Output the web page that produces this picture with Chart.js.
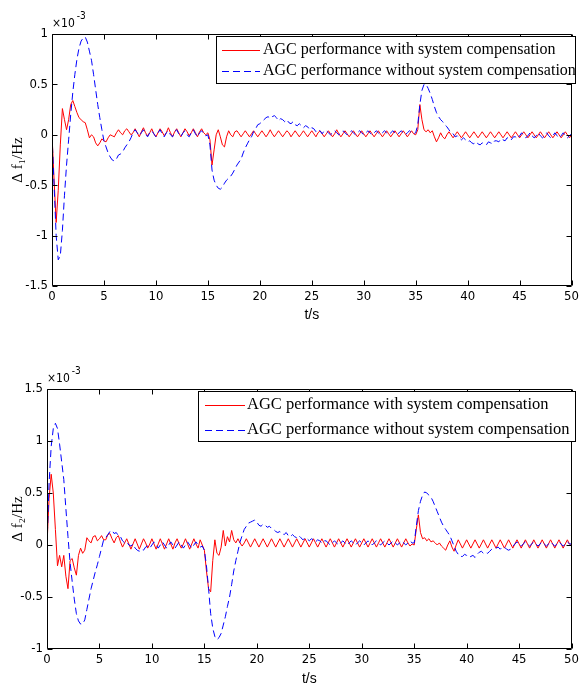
<!DOCTYPE html>
<html><head><meta charset="utf-8">
<script src="https://cdn.jsdelivr.net/npm/chart.js@4.4.0/dist/chart.umd.min.js"></script>
<style>
html,body{margin:0;padding:0;background:#fff;width:582px;height:691px;overflow:hidden;}
.wrap{position:absolute;left:0;width:582px;}
canvas{display:block;}
</style></head><body>
<div class="wrap" style="top:0;height:345px"><canvas id="c1" width="582" height="345"></canvas></div>
<div class="wrap" style="top:345px;height:346px"><canvas id="c2" width="582" height="346"></canvas></div>
<script>
// time axis (s)
const TIME = [
0,0.2,0.4,0.6,0.8,1,1.2,1.4,1.6,1.8,
2,2.2,2.4,2.6,2.8,3,3.2,3.4,3.6,3.8,
4,4.2,4.4,4.6,4.8,5,5.2,5.4,5.6,5.8,
6,6.2,6.4,6.6,6.8,7,7.2,7.4,7.6,7.8,
8,8.2,8.4,8.6,8.8,9,9.2,9.4,9.6,9.8,
10,10.2,10.4,10.6,10.8,11,11.2,11.4,11.6,11.8,
12,12.2,12.4,12.6,12.8,13,13.2,13.4,13.6,13.8,
14,14.2,14.4,14.6,14.8,15,15.2,15.4,15.6,15.8,
16,16.2,16.4,16.6,16.8,17,17.2,17.4,17.6,17.8,
18,18.2,18.4,18.6,18.8,19,19.2,19.4,19.6,19.8,
20,20.2,20.4,20.6,20.8,21,21.2,21.4,21.6,21.8,
22,22.2,22.4,22.6,22.8,23,23.2,23.4,23.6,23.8,
24,24.2,24.4,24.6,24.8,25,25.2,25.4,25.6,25.8,
26,26.2,26.4,26.6,26.8,27,27.2,27.4,27.6,27.8,
28,28.2,28.4,28.6,28.8,29,29.2,29.4,29.6,29.8,
30,30.2,30.4,30.6,30.8,31,31.2,31.4,31.6,31.8,
32,32.2,32.4,32.6,32.8,33,33.2,33.4,33.6,33.8,
34,34.2,34.4,34.6,34.8,35,35.2,35.4,35.6,35.8,
36,36.2,36.4,36.6,36.8,37,37.2,37.4,37.6,37.8,
38,38.2,38.4,38.6,38.8,39,39.2,39.4,39.6,39.8,
40,40.2,40.4,40.6,40.8,41,41.2,41.4,41.6,41.8,
42,42.2,42.4,42.6,42.8,43,43.2,43.4,43.6,43.8,
44,44.2,44.4,44.6,44.8,45,45.2,45.4,45.6,45.8,
46,46.2,46.4,46.6,46.8,47,47.2,47.4,47.6,47.8,
48,48.2,48.4,48.6,48.8,49,49.2,49.4,49.6,49.8,
50];

// Δf1 (×10^-3 Hz), with system compensation
const F1_WITH = [
0,-0.45,-0.87,-0.55,-0.1,0.26,0.15,0.05,0.15,0.30,
0.34,0.28,0.22,0.17,0.15,0.13,0.12,0.05,-0.03,0.0,
-0.02,-0.08,-0.11,-0.08,-0.04,-0.06,-0.07,-0.03,0.0,-0.01,
-0.02,0.02,0.05,0.02,0.0,0.04,0.06,0.03,0.0,0.02,
0.06,0.02,-0.02,0.03,0.07,0.02,-0.01,0.02,0.06,0.01,
-0.02,0.02,0.06,0.03,-0.01,0.02,0.07,0.02,-0.02,0.03,
0.06,0.02,-0.02,0.02,0.06,0.03,-0.01,0.02,0.06,0.02,
-0.02,0.03,0.06,0.02,0.0,0.02,-0.05,-0.30,-0.15,0.0,
0.05,-0.02,-0.10,-0.12,-0.02,0.04,0.0,-0.02,0.03,0.04,
0.01,-0.02,0.01,0.04,0.01,-0.02,0.01,0.04,0.01,-0.02,
0.01,0.04,0.01,-0.02,0.01,0.05,0.01,-0.02,0.01,0.04,
0.01,-0.02,0.01,0.04,0.02,-0.02,0.01,0.04,0.01,-0.02,
0.01,0.04,0.01,-0.02,0.01,0.04,0.01,-0.02,0.02,0.04,
0.01,-0.02,0.01,0.04,0.01,-0.02,0.01,0.05,0.01,-0.02,
0.01,0.04,0.01,-0.02,0.01,0.04,0.01,-0.02,0.01,0.04,
0.01,-0.02,0.01,0.04,0.01,-0.02,0.01,0.04,0.01,-0.02,
0.01,0.04,0.01,-0.02,0.01,0.04,0.01,-0.02,0.01,0.04,
0.01,-0.02,0.01,0.04,0.01,0.0,0.05,0.30,0.15,0.05,
0.03,0.05,0.02,0.04,-0.02,-0.07,-0.03,0.02,-0.02,-0.04,
0.0,0.03,0.0,-0.03,0.0,0.03,0.0,-0.03,0.0,0.03,
0.0,-0.03,0.0,0.03,0.0,-0.03,0.0,0.03,0.0,-0.03,
0.0,0.03,0.0,-0.03,0.0,0.03,0.0,-0.03,0.0,0.03,
0.0,-0.03,0.0,0.03,0.0,-0.03,0.0,0.03,0.0,-0.03,
0.0,0.03,0.0,-0.03,0.0,0.03,0.0,-0.03,0.0,0.03,
0.0,-0.03,0.0,0.03,0.0,-0.03,0.0,0.03,0.0,-0.03,
0.0];

// Δf1 (×10^-3 Hz), without system compensation
const F1_WITHOUT = [
0,-0.5,-1.0,-1.24,-1.2,-0.95,-0.6,-0.3,-0.05,0.2,
0.42,0.6,0.75,0.86,0.93,0.96,0.97,0.92,0.83,0.74,
0.6,0.45,0.3,0.17,0.05,-0.06,-0.12,-0.18,-0.22,-0.25,
-0.26,-0.24,-0.2,-0.19,-0.17,-0.13,-0.1,-0.07,-0.03,0.02,
0.05,0.02,-0.01,0.02,0.05,0.01,-0.02,0.02,0.04,0.01,
-0.02,0.02,0.05,0.01,-0.02,0.02,0.04,0.0,-0.02,0.03,
0.05,0.01,-0.02,0.02,0.04,0.0,-0.02,0.02,0.05,0.01,
-0.02,0.02,0.04,0.01,-0.01,0.0,-0.1,-0.35,-0.45,-0.5,
-0.53,-0.54,-0.52,-0.48,-0.45,-0.43,-0.41,-0.38,-0.34,-0.30,
-0.27,-0.24,-0.18,-0.13,-0.09,-0.05,-0.02,0.03,0.06,0.1,
0.11,0.13,0.15,0.17,0.18,0.16,0.18,0.19,0.17,0.14,
0.16,0.15,0.13,0.15,0.12,0.11,0.13,0.10,0.09,0.11,
0.09,0.07,0.09,0.08,0.05,0.07,0.06,0.03,0.05,0.04,
0.01,0.04,0.04,0.02,0.0,0.02,0.04,0.02,0.0,0.02,
0.04,0.02,0.0,0.02,0.04,0.02,0.0,0.02,0.04,0.02,
0.0,0.02,0.04,0.02,0.0,0.02,0.04,0.02,0.0,0.02,
0.04,0.02,0.0,0.02,0.04,0.02,0.0,0.02,0.04,0.02,
0.0,0.02,0.04,0.02,0.01,0.02,0.1,0.3,0.44,0.5,
0.5,0.46,0.41,0.35,0.28,0.22,0.18,0.15,0.13,0.10,
0.08,0.05,0.02,0.01,-0.02,-0.01,-0.03,-0.05,-0.03,-0.05,
-0.07,-0.06,-0.08,-0.09,-0.07,-0.09,-0.10,-0.08,-0.09,-0.10,
-0.07,-0.08,-0.09,-0.06,-0.06,-0.07,-0.04,-0.05,-0.06,-0.03,
-0.03,-0.05,-0.02,-0.02,-0.04,-0.01,0.02,-0.01,-0.03,-0.01,
0.02,-0.01,-0.03,-0.01,0.02,-0.01,-0.03,-0.01,0.02,-0.01,
-0.03,-0.01,0.02,-0.01,-0.03,-0.01,0.02,-0.01,-0.03,-0.01,
0.01];

// Δf2 (×10^-3 Hz), with system compensation
const F2_WITH = [
0.0,0.45,0.68,0.50,0.15,-0.20,-0.10,-0.21,-0.10,-0.30,
-0.42,-0.15,-0.13,-0.22,-0.29,-0.10,-0.03,-0.08,-0.05,0.07,
0.04,0.02,0.08,0.09,0.04,0.06,0.09,0.05,0.05,0.10,
0.11,0.06,0.02,0.07,0.09,0.03,-0.02,0.02,0.06,0.01,
-0.04,0.01,0.06,0.01,-0.04,0.01,0.06,0.02,-0.03,0.01,
0.06,0.01,-0.04,0.01,0.06,0.01,-0.04,0.01,0.06,0.01,
-0.04,0.02,0.06,0.01,-0.03,0.01,0.06,0.01,-0.04,0.01,
0.06,0.01,-0.03,0.05,0.0,-0.05,-0.25,-0.42,-0.45,-0.15,
0.05,-0.08,-0.10,-0.02,0.14,-0.01,0.08,0.03,0.14,0.05,
0.02,0.06,0.02,-0.01,0.02,0.06,0.02,-0.02,0.02,0.06,
0.02,-0.02,0.02,0.06,0.02,-0.02,0.02,0.06,0.02,-0.02,
0.02,0.06,0.02,-0.02,0.02,0.06,0.02,-0.02,0.02,0.06,
0.02,-0.02,0.02,0.06,0.02,-0.02,0.02,0.06,0.02,-0.02,
0.02,0.06,0.02,-0.02,0.02,0.06,0.02,-0.02,0.02,0.06,
0.02,-0.02,0.02,0.06,0.02,-0.02,0.02,0.06,0.02,-0.02,
0.02,0.06,0.02,-0.02,0.02,0.06,0.02,-0.02,0.02,0.06,
0.02,-0.02,0.02,0.06,0.02,-0.02,0.02,0.06,0.02,-0.02,
0.02,0.06,0.02,-0.01,0.01,0.0,0.15,0.29,0.12,0.06,
0.07,0.04,0.06,0.03,0.04,0.02,0.0,0.02,-0.01,-0.03,
-0.05,0.0,0.04,-0.02,-0.06,0.0,0.05,0.01,-0.03,0.01,
0.05,0.01,-0.03,0.01,0.05,0.01,-0.03,0.01,0.05,0.01,
-0.03,0.01,0.05,0.01,-0.03,0.01,0.05,0.01,-0.03,0.01,
0.05,0.01,-0.03,0.01,0.05,0.01,-0.03,0.01,0.05,0.01,
-0.03,0.01,0.05,0.01,-0.03,0.01,0.05,0.01,-0.03,0.01,
0.05,0.01,-0.03,0.01,0.05,0.01,-0.03,0.01,0.05,0.01,
-0.01];

// Δf2 (×10^-3 Hz), without system compensation
const F2_WITHOUT = [
0.0,0.6,0.95,1.12,1.17,1.12,0.97,0.8,0.63,0.35,
0.08,-0.17,-0.35,-0.52,-0.66,-0.73,-0.76,-0.76,-0.72,-0.62,
-0.52,-0.42,-0.34,-0.26,-0.19,-0.11,-0.03,0.05,0.07,0.1,
0.13,0.14,0.11,0.12,0.09,0.08,0.04,0.02,0.03,0.0,
-0.01,0.01,-0.03,-0.05,-0.06,-0.04,-0.05,-0.02,-0.01,-0.03,
0.0,0.03,0.0,-0.03,0.0,0.03,0.0,-0.03,0.0,0.03,
0.0,-0.03,0.0,0.03,0.0,-0.03,0.0,0.03,0.0,-0.03,
0.0,0.03,0.0,-0.02,-0.01,-0.05,-0.2,-0.42,-0.66,-0.8,
-0.88,-0.91,-0.89,-0.85,-0.77,-0.69,-0.59,-0.5,-0.38,-0.25,
-0.15,-0.06,0.03,0.09,0.15,0.18,0.21,0.22,0.23,0.24,
0.22,0.19,0.18,0.2,0.19,0.17,0.18,0.16,0.15,0.13,
0.12,0.13,0.11,0.1,0.12,0.09,0.08,0.1,0.08,0.07,
0.09,0.07,0.05,0.07,0.06,0.04,0.06,0.05,0.03,0.05,
0.04,0.02,0.04,0.04,0.02,0.0,0.02,0.04,0.02,0.0,
0.02,0.04,0.02,0.0,0.02,0.04,0.02,0.0,0.02,0.04,
0.02,0.0,0.02,0.04,0.02,0.0,0.02,0.04,0.02,0.0,
0.02,0.04,0.02,0.0,0.02,0.04,0.02,0.0,0.02,0.04,
0.02,0.0,0.02,0.04,0.02,0.02,0.18,0.33,0.42,0.48,
0.51,0.5,0.48,0.46,0.42,0.37,0.32,0.27,0.22,0.18,
0.15,0.12,0.09,0.04,-0.01,-0.06,-0.09,-0.11,-0.11,-0.09,
-0.1,-0.12,-0.11,-0.10,-0.12,-0.09,-0.07,-0.06,-0.08,-0.07,
-0.08,-0.06,-0.04,-0.03,-0.03,-0.02,-0.04,-0.02,-0.02,-0.04,
-0.05,-0.04,-0.01,0.01,0.03,0.01,-0.01,0.01,0.03,0.01,
-0.01,0.01,0.03,0.01,-0.01,0.01,0.03,0.01,-0.01,0.01,
0.03,0.01,-0.01,0.01,0.03,0.01,-0.01,0.01,0.03,0.01,
0.01];

const SERIES_LABELS = ['AGC performance with system compensation', 'AGC performance without system compensation'];
const X_TICKS = [0,5,10,15,20,25,30,35,40,45,50];
const Y1_TICKS = [-1.5,-1,-0.5,0,0.5,1];
const Y2_TICKS = [-1,-0.5,0,0.5,1,1.5];
const X_TITLE = 't/s';
const Y1_TITLE = 'Δ f₁/Hz';
const Y2_TITLE = 'Δ f₂/Hz';
const MULT_BASE = '×10';
const MULT_EXP = '-3';

const TICK_FONT = "'Liberation Sans Narrow','DejaVu Sans Condensed',Arial,sans-serif";
const SERIF = "'Liberation Serif','Times New Roman',serif";
const SANS = "'Liberation Sans',Arial,sans-serif";

function pts(ys){ return TIME.map((t,i)=>({x:t,y:ys[i]})); }

const framePlugin = {
  id:'frameTicks',
  afterDraw(chart){
    const {ctx, chartArea:a, scales:{x,y}} = chart;
    const L=Math.round(a.left)+0.5, R=Math.round(a.right)-0.5, T=Math.round(a.top)+0.5, B=Math.round(a.bottom)-0.5;
    ctx.save();
    ctx.strokeStyle='#000'; ctx.lineWidth=1;
    ctx.beginPath();
    ctx.rect(L,T,R-L,B-T);
    x.ticks.forEach(t=>{const p=Math.round(x.getPixelForValue(t.value))+0.5; ctx.moveTo(p,B); ctx.lineTo(p,B-5); ctx.moveTo(p,T); ctx.lineTo(p,T+5);});
    y.ticks.forEach(t=>{const p=Math.round(y.getPixelForValue(t.value))+0.5; ctx.moveTo(L,p); ctx.lineTo(L+5,p); ctx.moveTo(R,p); ctx.lineTo(R-5,p);});
    ctx.stroke();
    // multiplier label
    const m = chart.options.plugins.mult;
    ctx.fillStyle='#000';
    ctx.textBaseline='alphabetic'; ctx.textAlign='left';
    ctx.font = "12px "+TICK_FONT;
    ctx.fillText(MULT_BASE, m.x, m.y);
    const w = ctx.measureText(MULT_BASE).width;
    ctx.font = "10px "+TICK_FONT;
    ctx.fillText(MULT_EXP, m.x+w+2, m.y-8);
    // legend
    const lg = chart.options.plugins.boxLegend;
    const [bl,bt,br,bb] = lg.box;
    ctx.fillStyle='#fff';
    ctx.fillRect(bl,bt,br-bl,bb-bt);
    ctx.strokeStyle='#000';
    ctx.strokeRect(bl+0.5,bt+0.5,br-bl-1,bb-bt-1);
    chart.data.datasets.forEach((ds,i)=>{
      const yy = lg.rows[i];
      ctx.beginPath();
      ctx.strokeStyle = ds.borderColor; ctx.lineWidth=1;
      ctx.setLineDash(ds.borderDash||[]);
      ctx.moveTo(lg.line[0], yy+0.5); ctx.lineTo(lg.line[1], yy+0.5);
      ctx.stroke();
      ctx.setLineDash([]);
      ctx.fillStyle='#000';
      ctx.font = lg.font;
      ctx.textBaseline='middle';
      ctx.fillText(ds.label, lg.textX, yy);
    });
    ctx.restore();
  }
};

function makeChart(id, yWith, yWithout, yTicks, yTitle, cfg){
  return new Chart(document.getElementById(id), {
    type:'line',
    data:{datasets:[
      {label:SERIES_LABELS[0], data:pts(yWith), borderColor:'#ff0000', borderWidth:1, pointRadius:0, tension:0, order:1},
      {label:SERIES_LABELS[1], data:pts(yWithout), borderColor:'#0000ff', borderWidth:1, borderDash:[7,4], pointRadius:0, tension:0, order:0}
    ]},
    options:{
      responsive:false, animation:false, devicePixelRatio:1,
      layout:{padding:cfg.padding},
      plugins:{legend:{display:false}, tooltip:{enabled:false}, mult:cfg.mult, boxLegend:cfg.legend},
      scales:{
        x:{type:'linear', min:0, max:50,
          afterBuildTicks:s=>{s.ticks = X_TICKS.map(v=>({value:v}));},
          afterFit:s=>{s.height = cfg.xH;},
          grid:{display:false, drawTicks:false}, border:{display:false},
          ticks:{padding:cfg.xPad, color:'#000', font:{family:TICK_FONT, size:13}, maxRotation:0, autoSkip:false, callback:v=>String(v)},
          title:{display:true, text:X_TITLE, color:'#000', font:{family:SANS, size:14}, padding:{top:0,bottom:cfg.xTitlePad}}
        },
        y:{type:'linear', min:yTicks[0], max:yTicks[yTicks.length-1],
          afterBuildTicks:s=>{s.ticks = yTicks.map(v=>({value:v}));},
          afterFit:s=>{s.width = cfg.yW;},
          grid:{display:false, drawTicks:false}, border:{display:false},
          ticks:{padding:4, color:'#000', font:{family:TICK_FONT, size:13}, autoSkip:false, callback:v=>String(v)},
          title:{display:true, text:yTitle, color:'#000', font:{family:SERIF, size:15}, padding:{top:9,bottom:0}}
        }
      }
    },
    plugins:[framePlugin]
  });
}

makeChart('c1', F1_WITH, F1_WITHOUT, Y1_TICKS, Y1_TITLE, {
  padding:{top:34,right:6,left:0,bottom:0}, yW:52, xH:59, xPad:3, xTitlePad:21,
  mult:{x:52, y:27},
  legend:{box:[216,36,576,84], rows:[50,71], line:[222,260], textX:263, font:"16px "+SERIF}
});
makeChart('c2', F2_WITH, F2_WITHOUT, Y2_TICKS, Y2_TITLE, {
  padding:{top:44,right:5,left:0,bottom:0}, yW:47, xH:42, xPad:3, xTitlePad:3,
  mult:{x:47, y:37},
  legend:{box:[198,46,576,97], rows:[60,85], line:[205,245], textX:247, font:"16.5px "+SERIF}
});
</script>
</body></html>
